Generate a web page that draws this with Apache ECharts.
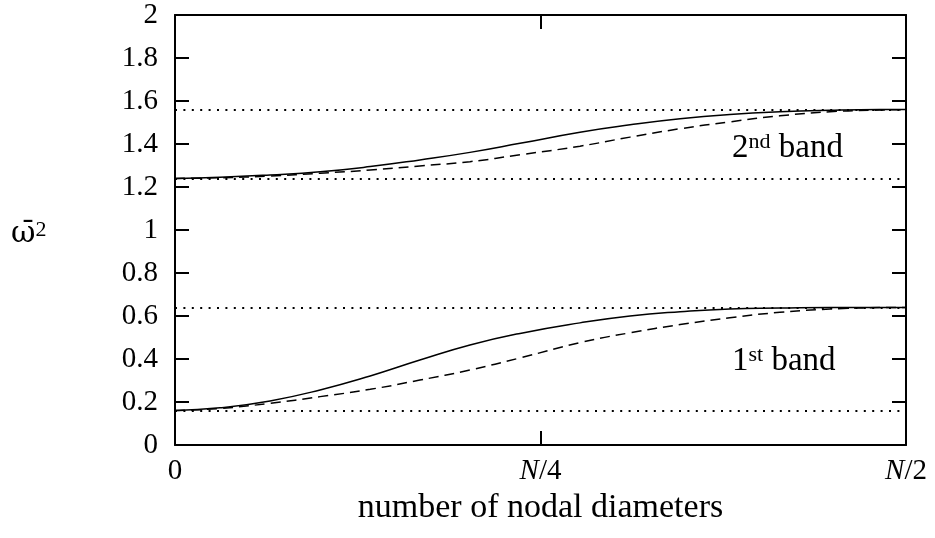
<!DOCTYPE html>
<html>
<head>
<meta charset="utf-8">
<script src="https://cdn.jsdelivr.net/npm/echarts@6/dist/echarts.min.js"></script>
<style>html,body{margin:0;padding:0;background:#fff}#c{width:935px;height:538px}</style>
</head>
<body>
<div id="c"></div>
<script>
// x in units of N/4 : 0 .. 2 (0 .. N/2)
const xTickLabels = ['0', '{i|N}/4', '{i|N}/2'];
const yTicks = [0, 0.2, 0.4, 0.6, 0.8, 1, 1.2, 1.4, 1.6, 1.8, 2];
const xs = [0, 0.123, 0.260, 0.397, 0.534, 0.670, 0.807, 0.944, 1.108, 1.245, 1.382, 1.518, 1.655, 1.792, 1.929, 2.0];
const band1Solid  = [0.16, 0.173, 0.205, 0.256, 0.321, 0.395, 0.465, 0.519, 0.568, 0.600, 0.620, 0.633, 0.637, 0.640, 0.640, 0.640];
const band1Dashed = [0.16, 0.170, 0.194, 0.225, 0.259, 0.302, 0.349, 0.405, 0.476, 0.522, 0.560, 0.592, 0.617, 0.632, 0.639, 0.640];
const band2Solid  = [1.24, 1.245, 1.256, 1.271, 1.295, 1.326, 1.361, 1.403, 1.455, 1.489, 1.517, 1.537, 1.550, 1.557, 1.560, 1.560];
const band2Dashed = [1.24, 1.243, 1.251, 1.264, 1.279, 1.298, 1.318, 1.350, 1.390, 1.432, 1.471, 1.503, 1.531, 1.550, 1.558, 1.560];
const bandEdges = [0.16, 0.64, 1.24, 1.56];

const FONT = 'Liberation Serif';
const TICK_FS = 29;
const TEXT_FS = 33;
const pair = (ys) => xs.map((x, i) => [x, ys[i]]);
const chart = echarts.init(document.getElementById('c'), null, {renderer: 'canvas'});

const axisCommon = {
  axisLine: {show: true, onZero: false, lineStyle: {color: '#000', width: 2}},
  axisTick: {show: true, inside: true, length: 14, lineStyle: {color: '#000', width: 2}},
  splitLine: {show: false}
};

const curveSeries = (ys, dashed) => ({
  type: 'line', xAxisIndex: 0, yAxisIndex: 0,
  data: pair(ys), smooth: 0.5, showSymbol: false, symbol: 'none',
  lineStyle: {color: '#000', width: 1.5, type: dashed ? [10, 6] : 'solid'},
  silent: true, animation: false, z: 3
});

const supRich = {
  a: {fontFamily: FONT, fontSize: TEXT_FS, fill: '#000'},
  w: {fontFamily: 'DejaVu Serif', fontSize: 30, fill: '#000'},
  s: {fontFamily: FONT, fontSize: 22, fill: '#000', verticalAlign: 'top'}
};

chart.setOption({
  animation: false,
  grid: {left: 175, right: 29, top: 15, bottom: 93, containLabel: false},
  xAxis: [
    Object.assign({}, axisCommon, {
      type: 'value', min: 0, max: 2, interval: 1, position: 'bottom',
      axisLabel: {
        color: '#000', fontFamily: FONT, fontSize: TICK_FS, margin: 12,
        formatter: (v) => xTickLabels[Math.round(v)],
        rich: {i: {fontStyle: 'italic', fontFamily: FONT, fontSize: TICK_FS, color: '#000'}}
      },
      name: 'number of nodal diameters', nameLocation: 'middle', nameGap: 45,
      nameTextStyle: {color: '#000', fontFamily: FONT, fontSize: 34}
    }),
    Object.assign({}, axisCommon, {
      type: 'value', min: 0, max: 2, interval: 1, position: 'top',
      axisLabel: {show: false}
    })
  ],
  yAxis: [
    Object.assign({}, axisCommon, {
      type: 'value', min: 0, max: 2, interval: 0.2, position: 'left',
      axisLabel: {color: '#000', fontFamily: FONT, fontSize: TICK_FS, margin: 17,
        formatter: (v) => String(parseFloat(v.toFixed(2)))}
    }),
    Object.assign({}, axisCommon, {
      type: 'value', min: 0, max: 2, interval: 0.2, position: 'right',
      axisLabel: {show: false}
    })
  ],
  series: [
    curveSeries(band1Solid, false),
    curveSeries(band1Dashed, true),
    curveSeries(band2Solid, false),
    Object.assign(curveSeries(band2Dashed, true), {
      markLine: {
        silent: true, symbol: 'none', animation: false,
        label: {show: false},
        lineStyle: {color: '#000', width: 2, type: [2, 6.4]},
        data: bandEdges.map(v => ({yAxis: v}))
      }
    })
  ],
  graphic: [
    {type: 'text', x: 11, y: 234, style: {
      text: '{w|ω̄}{s|2}', fill: '#000', verticalAlign: 'middle', rich: supRich
    }},
    {type: 'text', x: 732, y: 148, style: {
      text: '{a|2}{s|nd}{a| band}', fill: '#000', verticalAlign: 'middle', rich: supRich
    }},
    {type: 'text', x: 732, y: 361, style: {
      text: '{a|1}{s|st}{a| band}', fill: '#000', verticalAlign: 'middle', rich: supRich
    }}
  ]
});
</script>
</body>
</html>
